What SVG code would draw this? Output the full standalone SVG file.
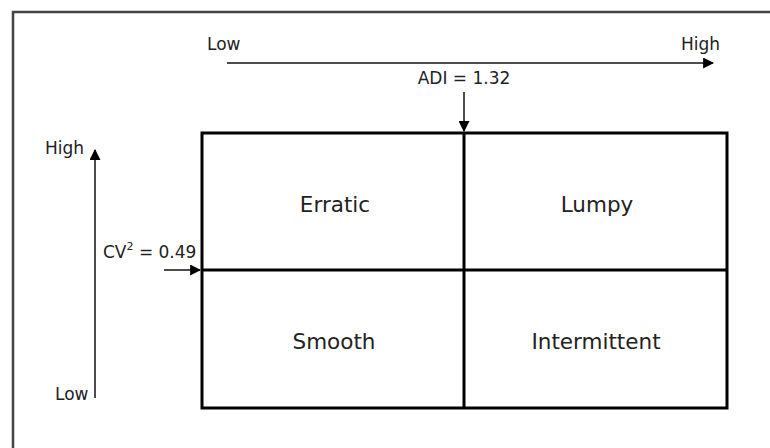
<svg xmlns="http://www.w3.org/2000/svg" width="770" height="448" viewBox="0 0 770 448">
<style>
text{font-family:"DejaVu Sans","Noto Sans",sans-serif;fill:#222}
.cell{font-size:21.5px}
.axis{font-size:17px}
.ln{stroke:#111;stroke-width:1.5;fill:none}
.grid{stroke:#000;stroke-width:3;fill:none}
</style>
<defs>
<marker id="ah" viewBox="0 0 10 10" refX="9" refY="5" markerWidth="11" markerHeight="11" markerUnits="userSpaceOnUse" orient="auto">
<path d="M0,0 L10,5 L0,10 z" fill="#000"/>
</marker>
</defs>
<rect x="13" y="12" width="800" height="500" fill="#fff" stroke="#444" stroke-width="2.5"/>
<g id="grid">
<rect class="grid" x="202" y="133" width="525" height="275"/>
<line class="grid" x1="464" y1="133" x2="464" y2="408"/>
<line class="grid" x1="202" y1="270" x2="727" y2="270"/>
</g>
<g id="erratic"><text class="cell" x="335" y="212" text-anchor="middle">Erratic</text></g>
<g id="lumpy"><text class="cell" x="597" y="212" text-anchor="middle">Lumpy</text></g>
<g id="smooth"><text class="cell" x="334" y="349" text-anchor="middle">Smooth</text></g>
<g id="intermittent"><text class="cell" x="596" y="349" text-anchor="middle">Intermittent</text></g>
<g id="connectors">
<line class="ln" x1="227" y1="63" x2="713" y2="63" marker-end="url(#ah)"/>
<line class="ln" x1="464" y1="92" x2="464" y2="131" marker-end="url(#ah)"/>
<line class="ln" x1="95" y1="398" x2="95" y2="150" marker-end="url(#ah)"/>
<line class="ln" x1="164" y1="270" x2="200" y2="270" marker-end="url(#ah)"/>
</g>
<g id="labels">
<text class="axis" x="207" y="50">Low</text>
<text class="axis" x="681" y="50">High</text>
<text class="axis" x="464" y="84" text-anchor="middle">ADI = 1.32</text>
<text class="axis" x="45" y="154">High</text>
<text class="axis" x="55" y="400">Low</text>
<text class="axis" x="103" y="258">CV<tspan dy="-8" font-size="11">2</tspan><tspan dy="8"> = 0.49</tspan></text>
</g>
</svg>
